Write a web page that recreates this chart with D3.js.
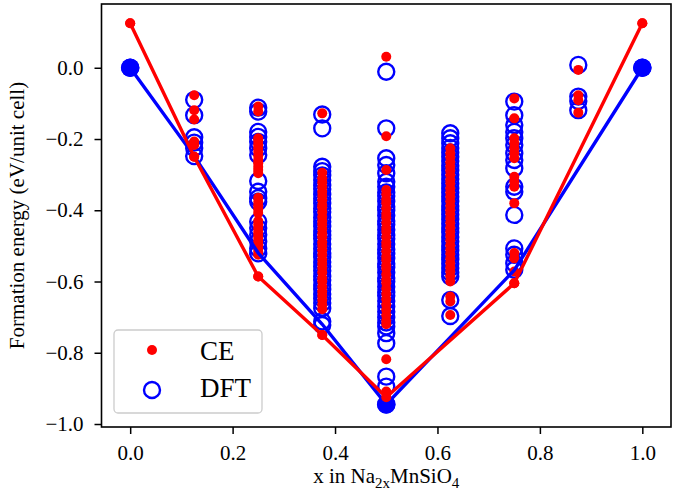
<!DOCTYPE html>
<html>
<head>
<meta charset="utf-8">
<script src="https://cdn.jsdelivr.net/npm/d3@7"></script>
<style>
  body { margin: 0; background: #fff; }
  text { font-family: "Liberation Serif", "Times New Roman", serif; }
</style>
</head>
<body>
<div id="chart"></div>
<script>
// compositions x in Na2xMnSiO4
const compositions = [0, 0.125, 0.25, 0.375, 0.5, 0.625, 0.75, 0.875, 1];

// cluster expansion energies, one list per composition
const ceEnergies = [
  [0.125],
  [-0.077, -0.119, -0.145, -0.207, -0.217, -0.25],
  [-0.109, -0.123, -0.198, -0.207, -0.217, -0.226, -0.236, -0.247, -0.259, -0.268, -0.278, -0.287, -0.296,
   -0.365, -0.376, -0.387, -0.397, -0.408, -0.43, -0.44, -0.45, -0.46, -0.469, -0.478, -0.488, -0.498,
   -0.507, -0.516, -0.525, -0.586],
  [-0.128, -0.295, -0.31, -0.322, -0.335, -0.348, -0.36, -0.372, -0.385, -0.392, -0.405, -0.418, -0.43,
   -0.44, -0.452, -0.465, -0.476, -0.49, -0.5, -0.512, -0.525, -0.538, -0.55, -0.562, -0.575, -0.59, -0.6,
   -0.615, -0.628, -0.64, -0.652, -0.665, -0.678, -0.75],
  [0.031, -0.192, -0.287, -0.343, -0.355, -0.37, -0.38, -0.395, -0.41, -0.42, -0.435, -0.45, -0.46, -0.475,
   -0.49, -0.5, -0.515, -0.53, -0.54, -0.555, -0.565, -0.58, -0.595, -0.605, -0.62, -0.635, -0.65, -0.665,
   -0.68, -0.695, -0.71, -0.72, -0.818, -0.909, -0.925],
  [-0.226, -0.24, -0.252, -0.265, -0.278, -0.29, -0.302, -0.315, -0.325, -0.338, -0.35, -0.362, -0.375,
   -0.388, -0.4, -0.41, -0.422, -0.435, -0.448, -0.46, -0.472, -0.485, -0.498, -0.51, -0.522, -0.535,
   -0.548, -0.56, -0.572, -0.585, -0.6, -0.642, -0.656, -0.694],
  [-0.086, -0.142, -0.198, -0.212, -0.226, -0.24, -0.254, -0.306, -0.32, -0.334, -0.38, -0.52, -0.535,
   -0.572, -0.605],
  [-0.006, -0.077, -0.091, -0.126],
  [0.125]
];

// DFT energies, one list per composition
const dftEnergies = [
  [0],
  [-0.09, -0.133, -0.195, -0.21, -0.225, -0.248],
  [-0.112, -0.123, -0.18, -0.194, -0.208, -0.226, -0.245, -0.318, -0.348, -0.366, -0.376, -0.432, -0.45,
   -0.469, -0.488, -0.507, -0.521],
  [-0.131, -0.17, -0.278, -0.29, -0.302, -0.315, -0.33, -0.34, -0.355, -0.368, -0.38, -0.395, -0.405,
   -0.42, -0.432, -0.445, -0.458, -0.47, -0.48, -0.495, -0.508, -0.52, -0.532, -0.545, -0.558, -0.57,
   -0.585, -0.596, -0.61, -0.622, -0.635, -0.648, -0.66, -0.675, -0.712, -0.722],
  [-0.011, -0.17, -0.254, -0.273, -0.296, -0.32, -0.334, -0.35, -0.36, -0.375, -0.39, -0.4, -0.415, -0.43,
   -0.44, -0.455, -0.47, -0.48, -0.495, -0.51, -0.52, -0.535, -0.55, -0.56, -0.575, -0.59, -0.6, -0.615,
   -0.63, -0.64, -0.655, -0.67, -0.685, -0.7, -0.715, -0.726, -0.745, -0.773, -0.867, -0.895, -0.945],
  [-0.184, -0.198, -0.212, -0.225, -0.238, -0.25, -0.262, -0.275, -0.288, -0.3, -0.312, -0.325, -0.338,
   -0.35, -0.362, -0.375, -0.388, -0.4, -0.412, -0.425, -0.438, -0.45, -0.462, -0.475, -0.488, -0.5,
   -0.512, -0.525, -0.538, -0.55, -0.562, -0.575, -0.586, -0.652, -0.697],
  [-0.095, -0.133, -0.161, -0.18, -0.198, -0.217, -0.24, -0.259, -0.282, -0.334, -0.348, -0.413, -0.507,
   -0.525, -0.549, -0.567],
  [0.008, -0.081, -0.093, -0.119],
  [0]
];

// convex hulls
const ceHullX = [0, 0.125, 0.25, 0.375, 0.5, 0.75, 1];
const ceHullY = [0.125, -0.25, -0.586, -0.75, -0.925, -0.605, 0.125];
const dftHullX = [0, 0.125, 0.25, 0.375, 0.5, 0.75, 1];
const dftHullY = [0, -0.248, -0.52, -0.72, -0.945, -0.568, 0];
const dftGroundX = [0, 0.5, 1];
const dftGroundY = [0, -0.945, 0];

const xTicks = [0, 0.2, 0.4, 0.6, 0.8, 1.0];
const yTicks = [0, -0.2, -0.4, -0.6, -0.8, -1.0];

var width = 673, height = 490;
var plotLeft = 101.5, plotRight = 671, plotTop = 4, plotBottom = 427;

var svg = d3.select("#chart").append("svg")
        .attr("width", width)
        .attr("height", height);

var x = d3.scaleLinear().domain([-0.056, 1.056]).range([plotLeft, plotRight]);
var y = d3.scaleLinear().domain([-1.0084, 0.179]).range([plotBottom, plotTop]);

function flat(lists) {
  var out = [];
  lists.forEach(function(vals, i) {
    vals.forEach(function(v) { out.push([compositions[i], v]); });
  });
  return out;
}

// DFT open circles
svg.append("g").selectAll("circle")
    .data(flat(dftEnergies))
    .join("circle")
    .attr("cx", d => x(d[0]))
    .attr("cy", d => y(d[1]))
    .attr("r", 8)
    .style("fill", "none")
    .style("stroke", "#0000ff")
    .style("stroke-width", 2.4);

// CE filled dots
svg.append("g").selectAll("circle")
    .data(flat(ceEnergies))
    .join("circle")
    .attr("cx", d => x(d[0]))
    .attr("cy", d => y(d[1]))
    .attr("r", 5)
    .style("fill", "#ff0000");

var line = d3.line().x(d => x(d[0])).y(d => y(d[1]));

// DFT hull
svg.append("path")
    .datum(d3.zip(dftHullX, dftHullY))
    .attr("d", line)
    .style("fill", "none")
    .style("stroke", "#0000ff")
    .style("stroke-width", 3.4);

svg.append("g").selectAll("circle")
    .data(d3.zip(dftGroundX, dftGroundY))
    .join("circle")
    .attr("cx", d => x(d[0]))
    .attr("cy", d => y(d[1]))
    .attr("r", 9.3)
    .style("fill", "#0000ff");

// CE hull
svg.append("path")
    .datum(d3.zip(ceHullX, ceHullY))
    .attr("d", line)
    .style("fill", "none")
    .style("stroke", "#ff0000")
    .style("stroke-width", 3.4);

svg.append("g").selectAll("circle")
    .data(d3.zip(ceHullX, ceHullY))
    .join("circle")
    .attr("cx", d => x(d[0]))
    .attr("cy", d => y(d[1]))
    .attr("r", 5)
    .style("fill", "#ff0000");

// axes
var fmt = d3.format(".1f");
var xAxis = svg.append("g")
    .attr("transform", "translate(0," + plotBottom + ")")
    .call(d3.axisBottom(x).tickValues(xTicks).tickFormat(fmt).tickSize(7).tickPadding(11));
var yAxis = svg.append("g")
    .attr("transform", "translate(" + plotLeft + ",0)")
    .call(d3.axisLeft(y).tickValues(yTicks).tickFormat(fmt).tickSize(7).tickPadding(11));

[xAxis, yAxis].forEach(function(a) {
  a.select(".domain").remove();
  a.selectAll(".tick line").style("stroke", "#000").style("stroke-width", 1.5);
  a.selectAll(".tick text")
      .style("font-family", '"Liberation Serif", "Times New Roman", serif')
      .style("font-size", "21px")
      .style("fill", "#000");
});

svg.append("rect")
    .attr("x", plotLeft)
    .attr("y", plotTop)
    .attr("width", plotRight - plotLeft)
    .attr("height", plotBottom - plotTop)
    .style("fill", "none")
    .style("stroke", "#000")
    .style("stroke-width", 1.6);

// axis labels
svg.append("text")
    .attr("transform", "translate(24," + ((plotTop + plotBottom) / 2) + ") rotate(-90)")
    .attr("text-anchor", "middle")
    .style("font-size", "21px")
    .text("Formation energy (eV/unit cell)");

var xl = svg.append("text")
    .attr("x", (plotLeft + plotRight) / 2)
    .attr("y", 483)
    .attr("text-anchor", "middle")
    .style("font-size", "21px");
xl.append("tspan").text("x in Na");
xl.append("tspan").attr("dy", 5).style("font-size", "15px").text("2x");
xl.append("tspan").attr("dy", -5).text("MnSiO");
xl.append("tspan").attr("dy", 5).style("font-size", "15px").text("4");

// legend
var legend = svg.append("g");
legend.append("rect")
    .attr("x", 114)
    .attr("y", 330)
    .attr("width", 148)
    .attr("height", 83)
    .attr("rx", 4)
    .style("fill", "#fff")
    .style("fill-opacity", 0.8)
    .style("stroke", "#cccccc")
    .style("stroke-width", 1.3);

legend.append("circle")
    .attr("cx", 152)
    .attr("cy", 350)
    .attr("r", 5)
    .style("fill", "#ff0000");
legend.append("text")
    .attr("x", 200)
    .attr("y", 360)
    .style("font-size", "27px")
    .text("CE");

legend.append("circle")
    .attr("cx", 152)
    .attr("cy", 390)
    .attr("r", 8)
    .style("fill", "none")
    .style("stroke", "#0000ff")
    .style("stroke-width", 2.4);
legend.append("text")
    .attr("x", 200)
    .attr("y", 397)
    .style("font-size", "27px")
    .text("DFT");
</script>
</body>
</html>
